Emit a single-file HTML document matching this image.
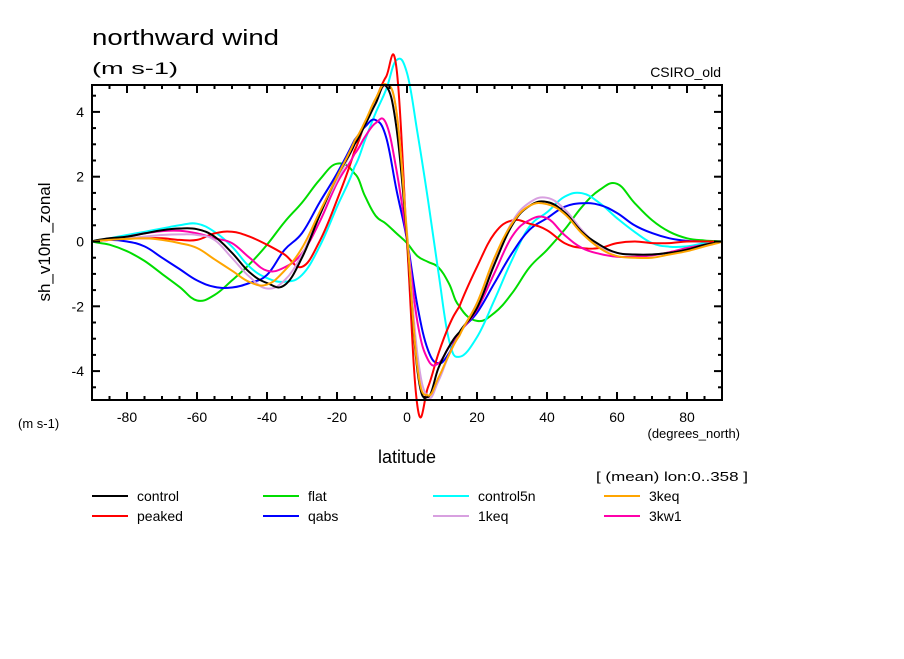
<!DOCTYPE html>
<html><head><meta charset="utf-8"><style>
body{margin:0;background:#fff;width:904px;height:654px;overflow:hidden}
svg{font-family:"Liberation Sans",sans-serif}
</style></head><body>
<svg id="chart" width="904" height="654" viewBox="0 0 904 654" xmlns="http://www.w3.org/2000/svg">
<text x="92" y="45" font-size="22" textLength="187" lengthAdjust="spacingAndGlyphs">northward wind</text>
<text x="92" y="74" font-size="17" textLength="86" lengthAdjust="spacingAndGlyphs">(m s-1)</text>
<text x="721" y="77" font-size="14" text-anchor="end">CSIRO_old</text>
<text transform="translate(50,242) rotate(-90)" font-size="17" text-anchor="middle">sh_v10m_zonal</text>
<text x="18" y="428" font-size="13">(m s-1)</text>
<text x="740" y="438" font-size="13" text-anchor="end">(degrees_north)</text>
<text x="407" y="463" font-size="18" text-anchor="middle">latitude</text>
<text x="596" y="481" font-size="13" textLength="152" lengthAdjust="spacingAndGlyphs">[ (mean) lon:0..358 ]</text>
<g id="plot"></g>
<g id="legend"></g>
</svg>
<script>
const lats=[-90,-85,-80,-75,-70,-65,-60,-55,-50,-45,-40,-35,-30,-25,-20,-15,-12,-9,-6,-3,0,3,6,9,12,15,20,25,30,35,40,45,50,55,60,65,70,75,80,85,90];
const control=[0,0.1,0.15,0.25,0.35,0.4,0.38,0.15,-0.35,-0.95,-1.28,-1.35,-0.5,0.8,2.0,3.0,3.6,4.25,4.8,3.5,0.1,-4.0,-4.8,-3.9,-3.25,-2.8,-2.05,-0.7,0.5,1.1,1.22,0.9,0.3,-0.1,-0.35,-0.4,-0.4,-0.35,-0.25,-0.1,0];
const peaked=[0,0.05,0.1,0.1,0.1,0.05,0.05,0.25,0.3,0.15,-0.1,-0.4,-0.78,0.0,1.28,2.8,3.65,4.37,5.08,5.35,0.0,-5.1,-4.5,-3.45,-2.6,-2.0,-0.78,0.25,0.65,0.55,0.35,-0.05,-0.2,-0.2,-0.05,0.0,-0.05,-0.05,0,0,0];
const flat=[0,-0.1,-0.3,-0.6,-1.0,-1.4,-1.82,-1.65,-1.2,-0.7,-0.1,0.6,1.2,1.9,2.4,2.1,1.4,0.8,0.55,0.25,-0.05,-0.45,-0.63,-0.8,-1.3,-2.0,-2.45,-2.2,-1.6,-0.8,-0.26,0.36,1.07,1.59,1.78,1.19,0.66,0.3,0.1,0.03,0];
const control5n=[0,0.1,0.2,0.3,0.4,0.5,0.55,0.3,-0.16,-0.78,-1.13,-1.24,-1.03,-0.16,1.07,2.3,3.13,3.96,4.68,5.6,5.2,3.35,1.28,-0.97,-3.04,-3.56,-2.95,-1.8,-0.57,0.46,0.9,1.38,1.49,1.19,0.72,0.3,-0.05,-0.16,-0.15,-0.05,0];
const qabs=[0,0.05,0.0,-0.15,-0.5,-0.85,-1.2,-1.4,-1.42,-1.28,-1.03,-0.26,0.26,1.2,2.1,3.13,3.54,3.75,3.23,1.59,0.05,-2.0,-3.35,-3.76,-3.45,-2.83,-2.2,-1.28,-0.36,0.36,0.72,1.07,1.18,1.13,0.88,0.5,0.26,0.1,0.02,0,0];
const keq1=[0,0.05,0.1,0.15,0.2,0.22,0.2,0.05,-0.51,-1.09,-1.45,-1.2,-0.4,0.8,1.9,3.0,3.6,4.3,4.8,4.0,0.3,-3.5,-4.8,-4.3,-3.5,-2.9,-1.9,-0.6,0.6,1.2,1.35,1.0,0.35,-0.15,-0.35,-0.4,-0.4,-0.35,-0.25,-0.1,0];
const keq3=[0,0.05,0.08,0.1,0.05,-0.05,-0.2,-0.55,-0.9,-1.25,-1.33,-0.9,-0.2,0.9,2.0,3.1,3.7,4.4,4.85,4.0,0.2,-3.9,-4.75,-4.2,-3.5,-2.9,-1.9,-0.5,0.55,1.1,1.15,0.85,0.25,-0.2,-0.45,-0.5,-0.5,-0.4,-0.3,-0.15,0];
const kw13=[0,0.05,0.15,0.25,0.32,0.33,0.25,0.1,-0.05,-0.5,-0.9,-0.8,-0.36,0.6,1.8,2.7,3.23,3.65,3.65,2.2,0.05,-2.5,-3.65,-3.76,-3.25,-2.83,-2.1,-0.97,0.15,0.66,0.72,0.2,-0.2,-0.38,-0.47,-0.47,-0.43,-0.33,-0.2,-0.1,0];
const seriesNames=["control","peaked","flat","qabs","control5n","1keq","3keq","3kw1"];
const seriesData=[control,peaked,flat,qabs,control5n,keq1,keq3,kw13];
const seriesColors=["#000","#f00","#0d0","#00f","#0ff","#d8a0e0","#ffa500","#f0a"];
const xTicks=[-80,-60,-40,-20,0,20,40,60,80];
const yTicks=[-4,-2,0,2,4];
const NS="http://www.w3.org/2000/svg";
const X0=92,X1=722,Y0=85,Y1=400;
const xs=v=>X0+(v+90)*(X1-X0)/180;
const ys=v=>241.5-v*32.4;
const plot=document.getElementById('plot');
function mk(t,a,p){const e=document.createElementNS(NS,t);for(const k in a)e.setAttribute(k,a[k]);(p||plot).appendChild(e);return e;}
const clip=mk('clipPath',{id:'cp'});mk('rect',{x:X0,y:0,width:X1-X0,height:440},clip);
function smooth(pts){
  let d='M'+pts[0][0].toFixed(1)+','+pts[0][1].toFixed(1);
  for(let i=0;i<pts.length-1;i++){
    const p0=pts[Math.max(0,i-1)],p1=pts[i],p2=pts[i+1],p3=pts[Math.min(pts.length-1,i+2)];
    const t=0.2;
    const c1=[p1[0]+(p2[0]-p0[0])*t,p1[1]+(p2[1]-p0[1])*t*((p2[0]-p1[0])/(p2[0]-p0[0])*2)];
    const c2=[p2[0]-(p3[0]-p1[0])*t,p2[1]-(p3[1]-p1[1])*t*((p2[0]-p1[0])/(p3[0]-p1[0])*2)];
    c1[0]=Math.min(c1[0],p2[0]);c2[0]=Math.max(c2[0],p1[0]);
    d+='C'+c1[0].toFixed(1)+','+c1[1].toFixed(1)+' '+c2[0].toFixed(1)+','+c2[1].toFixed(1)+' '+p2[0].toFixed(1)+','+p2[1].toFixed(1);
  }
  return d;
}
const drawOrder=[2,4,3,1,7,5,0,6];
drawOrder.forEach(i=>{
  const pts=seriesData[i].map((v,j)=>[xs(lats[j]),ys(v)]);
  const p=mk('path',{d:smooth(pts),fill:'none',stroke:seriesColors[i],'stroke-width':2,'clip-path':'url(#cp)'});
  
  
});
const frame=mk('rect',{x:X0,y:Y0,width:X1-X0,height:Y1-Y0,fill:'none',stroke:'#000','stroke-width':2});


for(let v=-90;v<=90;v+=5){const x=xs(v),L=(v%20==0)?8:4;
  mk('line',{x1:x,y1:Y1,x2:x,y2:Y1-L,stroke:'#000','stroke-width':2});
  mk('line',{x1:x,y1:Y0,x2:x,y2:Y0+L,stroke:'#000','stroke-width':2});}
for(let v=-4.5;v<=4.5;v+=0.5){const y=ys(v),L=(Math.abs(v)%2==0)?8:4;
  mk('line',{x1:X0,y1:y,x2:X0+L,y2:y,stroke:'#000','stroke-width':2});
  mk('line',{x1:X1,y1:y,x2:X1-L,y2:y,stroke:'#000','stroke-width':2});}
xTicks.forEach(v=>{const t=mk('text',{x:xs(v),y:Y1+22,'font-size':14,'text-anchor':'middle'});t.textContent=v;
  
  });
yTicks.forEach(v=>{const t=mk('text',{x:X0-8,y:ys(v)+5,'font-size':14,'text-anchor':'end'});t.textContent=v;
  
  });
const lg=document.getElementById('legend');
const cols=[92,263,433,604];
const order=[0,2,4,6,1,3,5,7];
order.forEach((i,k)=>{const c=k%4,r=Math.floor(k/4);const x=cols[c],y=496+r*20;
  const g=mk('g',{},lg);
  
  
  mk('line',{x1:x,y1:y,x2:x+36,y2:y,stroke:seriesColors[i],'stroke-width':2},g);
  const t=mk('text',{x:x+45,y:y+5,'font-size':14},g);t.textContent=seriesNames[i];});
</script>
</body></html>
